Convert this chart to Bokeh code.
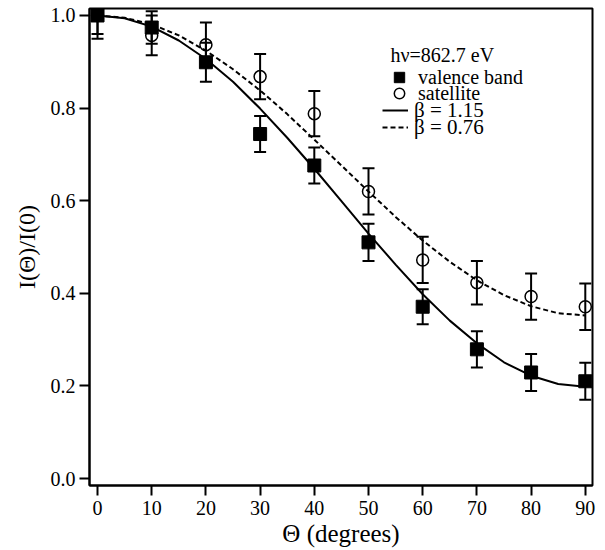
from bokeh.plotting import figure
from bokeh.models import (Range1d, ColumnDataSource, Whisker, TeeHead, Legend,
                          LegendItem, FixedTicker, Label)
from bokeh.embed import file_html
from bokeh.resources import INLINE

# ---- data ----
theta = [0, 10, 20, 30, 40, 50, 60, 70, 80, 90]
valence = [1.000, 0.974, 0.899, 0.744, 0.676, 0.510, 0.371, 0.279, 0.229, 0.210]
valence_err = [0.040, 0.035, 0.042, 0.039, 0.039, 0.040, 0.038, 0.039, 0.040, 0.040]
satellite = [1.000, 0.957, 0.937, 0.868, 0.788, 0.620, 0.472, 0.423, 0.393, 0.371]
satellite_err = [0.050, 0.043, 0.048, 0.049, 0.049, 0.050, 0.050, 0.047, 0.050, 0.050]

fit_theta = [0, 5, 10, 15, 20, 25, 30, 35, 40, 45, 50, 55, 60, 65, 70, 75, 80, 85, 90]
fit_b115 = [1.000, 0.994, 0.976, 0.946, 0.906, 0.857, 0.799, 0.736, 0.669, 0.599,
            0.529, 0.462, 0.398, 0.341, 0.292, 0.251, 0.222, 0.204, 0.198]
fit_b076 = [1.000, 0.995, 0.981, 0.957, 0.924, 0.884, 0.838, 0.787, 0.732, 0.676,
            0.620, 0.565, 0.514, 0.468, 0.428, 0.396, 0.372, 0.357, 0.352]

x_ticks = [0, 10, 20, 30, 40, 50, 60, 70, 80, 90]
y_ticks = [0.0, 0.2, 0.4, 0.6, 0.8, 1.0]
y_tick_labels = ["0.0", "0.2", "0.4", "0.6", "0.8", "1.0"]

x_title = "\u0398 (degrees)"
y_title = "I(\u0398)/I(0)"
energy_note = "h\u03bd=862.7 eV"
legend_labels = ["valence band", "satellite", "\u03b2 = 1.15", "\u03b2 = 0.76"]

FONT = "Liberation Serif"

p = figure(frame_width=503, frame_height=477,
           min_border_left=89, min_border_right=10, min_border_top=8, min_border_bottom=62,
           x_range=Range1d(-1.48, 91.33), y_range=Range1d(-0.0151, 1.0151),
           output_backend="svg", toolbar_location=None)

p.xgrid.visible = False
p.ygrid.visible = False
p.outline_line_color = "black"
p.outline_line_width = 2
p.outline_line_alpha = 1.0
p.background_fill_color = "white"
p.border_fill_color = "white"

for ax in (p.xaxis[0], p.yaxis[0]):
    ax.axis_line_width = 2
    ax.major_tick_line_width = 2
    ax.major_tick_out = 10
    ax.major_tick_in = 0
    ax.minor_tick_line_color = None
    ax.major_label_text_font = FONT
    ax.major_label_text_font_size = "20px"
    ax.major_label_text_color = "black"
    ax.axis_label_text_font = FONT
    ax.axis_label_text_font_style = "normal"
    ax.axis_label_text_color = "black"

p.xaxis.axis_label_text_font_size = "25px"
p.yaxis.axis_label_text_font_size = "24px"
p.xaxis.ticker = FixedTicker(ticks=x_ticks)
p.yaxis.ticker = FixedTicker(ticks=y_ticks)
p.yaxis.major_label_overrides = {t: s for t, s in zip(y_ticks, y_tick_labels)}
p.xaxis.axis_label = x_title
p.yaxis.axis_label = y_title
p.xaxis.major_label_standoff = 5
p.xaxis.axis_label_standoff = 2
p.yaxis.major_label_standoff = 4
p.yaxis.axis_label_standoff = 8

# fitted curves
l1 = p.line(fit_theta, fit_b115, line_color="black", line_width=2)
l2 = p.line(fit_theta, fit_b076, line_color="black", line_width=2, line_dash="5 3")

# error bars
src_v = ColumnDataSource(dict(x=theta, y=valence,
                              lo=[v - e for v, e in zip(valence, valence_err)],
                              hi=[v + e for v, e in zip(valence, valence_err)]))
src_s = ColumnDataSource(dict(x=theta, y=satellite,
                              lo=[v - e for v, e in zip(satellite, satellite_err)],
                              hi=[v + e for v, e in zip(satellite, satellite_err)]))
for src in (src_s, src_v):
    w = Whisker(source=src, base="x", lower="lo", upper="hi", line_width=2, line_color="black",
                upper_head=TeeHead(size=12, line_width=2, line_color="black"),
                lower_head=TeeHead(size=12, line_width=2, line_color="black"),
                level="glyph")
    p.add_layout(w)

r_sat = p.scatter("x", "y", source=src_s, marker="circle", size=12, fill_color=None,
                  line_color="black", line_width=1.5)
r_val = p.scatter("x", "y", source=src_v, marker="square", size=13, fill_color="black",
                  line_color="black")


def one_legend(label, renderer, loc, standoff, fsize):
    return Legend(items=[LegendItem(label=label, renderers=[renderer])],
                  location=loc, orientation="vertical",
                  glyph_width=26, glyph_height=28, label_height=28, spacing=0,
                  label_standoff=standoff, padding=0, margin=0,
                  label_text_font=FONT, label_text_font_size=fsize,
                  label_text_font_style="normal", label_text_color="black",
                  background_fill_alpha=0, border_line_alpha=0)


p.add_layout(one_legend(legend_labels[0], r_val, (297, 394), 6, "20px"), "center")
p.add_layout(one_legend(legend_labels[1], r_sat, (297, 378), 6, "20px"), "center")
p.add_layout(one_legend(legend_labels[2], l1, (293, 361), 6, "21px"), "center")
p.add_layout(one_legend(legend_labels[3], l2, (293, 344), 6, "21px"), "center")

p.add_layout(Label(x=301, y=431, x_units="screen", y_units="screen", text=energy_note,
                   text_font=FONT, text_font_size="20px", text_baseline="middle",
                   text_color="black"))

open("out.html", "w").write(file_html(p, INLINE))
